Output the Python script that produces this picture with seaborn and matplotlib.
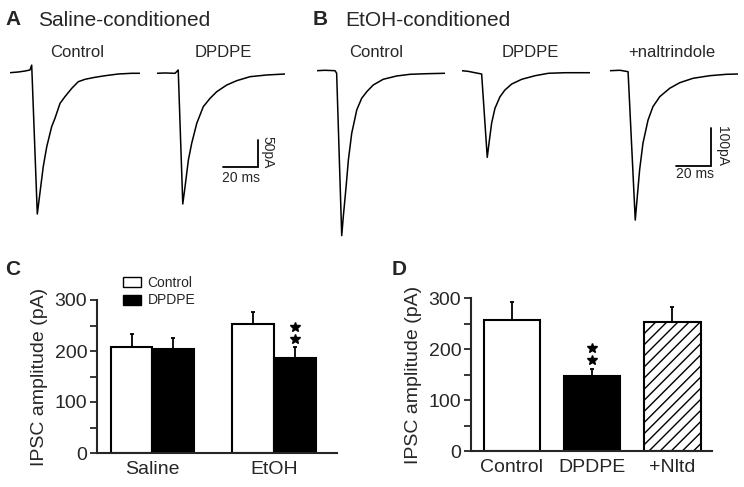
import numpy as np
import pandas as pd
import matplotlib
matplotlib.use('Agg')
import matplotlib.pyplot as plt
from matplotlib.patches import Patch
from matplotlib.transforms import offset_copy
import seaborn as sns

# ---- traces (time in ms, current in pA) ----
a_ctrl_t = [0, 4.7, 8.6, 11.4, 12.4, 15.6, 17.1, 19.0, 21.0, 23.8, 25.7, 28.6, 31.4, 35.3,
            39.0, 42.9, 48.6, 54.3, 61.9, 69.5, 74.3]
a_ctrl_i = [0, 1.3, 3.1, 5.0, 14, -261.7, -223, -174, -137, -100, -84.4, -56.7, -44.4, -28.9,
            -16.7, -12.2, -8.5, -5.6, -2.4, -1.1, -1.1]
a_dpdpe_t = [0, 4.7, 10.5, 12.3, 14.9, 16.2, 18.1, 20.0, 22.9, 26.6, 30.5, 34.3, 40.0, 45.7,
             53.3, 62.9, 73.3]
a_dpdpe_i = [0, 0.6, 0, 6.1, -242, -210, -160.6, -129.6, -92.6, -61.9, -46.3, -34.1, -21.7,
             -13.7, -6.3, -3.1, -1.3]

b_ctrl_t = [0, 4.7, 10.5, 11.4, 14.3, 15.2, 16.8, 18.1, 20.0, 22.9, 25.7, 28.6, 32.3, 38.0,
            45.7, 53.3, 62.9, 73.3]
b_ctrl_i = [0, 1.1, 0, -6.8, -434, -384, -305, -235, -165, -103, -72.6, -55.3, -37.6, -22.6,
            -13.9, -9.5, -7.9, -6.8]
b_dpdpe_t = [0, 3.6, 7.6, 11.4, 14.6, 15.6, 17.1, 19.0, 21.9, 24.7, 28.6, 34.3, 41.9, 49.5,
             59.0, 73.3]
b_dpdpe_i = [0, -1.6, -5.3, -8.7, -228, -191, -138, -99, -68.4, -50.8, -35, -22.6, -13.2,
             -6.8, -5.3, -5.3]
b_nal_t = [0, 5.9, 10.5, 14.6, 15.6, 17.1, 19.0, 21.9, 24.7, 28.6, 34.3, 40.0, 47.6, 57.1,
           66.6, 73.3]
b_nal_i = [0, 1.1, -2.6, -393, -340, -261, -191, -130, -94.7, -68.4, -46.3, -31.6, -20,
           -13.2, -9.5, -8.7]

scale_ms = 20
scale_pa_a = 50
scale_pa_b = 100

# ---- bar data ----
c_groups = ['Saline', 'EtOH']
c_drugs = ['Control', 'DPDPE']
c_control = [208, 253]
c_control_err = [26, 24]
c_dpdpe = [204, 186]
c_dpdpe_err = [22, 21]

d_labels = ['Control', 'DPDPE', '+Nltd']
d_means = [257, 147, 253]
d_err = [35, 15, 29]

W, H = 744, 487
sns.set_style('ticks')
plt.rcParams['font.family'] = ['Liberation Sans', 'DejaVu Sans']
plt.rcParams['hatch.color'] = 'black'
plt.rcParams['hatch.linewidth'] = 1.0

fig = plt.figure(figsize=(W / 100, H / 100), dpi=100)


def rect(l, t, r, b):
    return [l / W, 1 - b / H, (r - l) / W, (b - t) / H]


def fx(x, y):
    return x / W, 1 - y / H


PX_MS = 1.75
PX_PA_A = 0.54
PX_PA_B = 0.38


def trace(x0, y0, t, cur, px_pa):
    t = np.asarray(t, float)
    cur = np.asarray(cur, float)
    top = y0 - 12
    bot = y0 - cur.min() * px_pa + 6
    ax = fig.add_axes(rect(x0, top, x0 + t.max() * PX_MS, bot))
    sns.lineplot(x=t, y=cur, ax=ax, color='black', lw=1.1, estimator=None, sort=False)
    ax.set_xlim(0, t.max())
    ax.set_ylim(-(bot - y0) / px_pa, (y0 - top) / px_pa)
    ax.axis('off')
    return ax


def scalebar(ax, x, y, amp):
    ax.plot([x - scale_ms, x, x], [y, y, y + amp], color='black', lw=1.3,
            clip_on=False, solid_joinstyle='miter')


# ---- panel A ----
trace(10, 72.7, a_ctrl_t, a_ctrl_i, PX_PA_A)
ax_ad = trace(156.7, 73.3, a_dpdpe_t, a_dpdpe_i, PX_PA_A)
scalebar(ax_ad, 57.9, -174.4, scale_pa_a)
fig.text(*fx(267.5, 152), f'{scale_pa_a}pA', rotation=270, ha='center', va='center', fontsize=10)
fig.text(*fx(241, 177.5), f'{scale_ms} ms', ha='center', va='center', fontsize=10)

fig.text(*fx(5, 25), 'A', fontsize=15, fontweight='bold', va='baseline')
fig.text(*fx(38, 25.5), 'Saline-conditioned', fontsize=15, va='baseline')
fig.text(*fx(77, 57.3), 'Control', fontsize=12, ha='center', va='baseline')
fig.text(*fx(223, 57.3), 'DPDPE', fontsize=12, ha='center', va='baseline')

# ---- panel B ----
trace(316.7, 70.7, b_ctrl_t, b_ctrl_i, PX_PA_B)
trace(461.7, 70.7, b_dpdpe_t, b_dpdpe_i, PX_PA_B)
ax_bn = trace(609.7, 70.7, b_nal_t, b_nal_i, PX_PA_B)
scalebar(ax_bn, 57.9, -249.5, scale_pa_b)
fig.text(*fx(721.5, 146), f'{scale_pa_b}pA', rotation=270, ha='center', va='center', fontsize=10)
fig.text(*fx(695, 174.5), f'{scale_ms} ms', ha='center', va='center', fontsize=10)

fig.text(*fx(313, 25), 'B', fontsize=15, fontweight='bold', va='baseline')
fig.text(*fx(345, 25.5), 'EtOH-conditioned', fontsize=15, va='baseline')
fig.text(*fx(376, 57.3), 'Control', fontsize=12, ha='center', va='baseline')
fig.text(*fx(530, 57.3), 'DPDPE', fontsize=12, ha='center', va='baseline')
fig.text(*fx(672, 57.3), '+naltrindole', fontsize=12, ha='center', va='baseline')


def style_bar_axes(ax):
    sns.despine(ax=ax)
    for s in ('left', 'bottom'):
        ax.spines[s].set_linewidth(1.5)
    ax.set_ylim(0, 300)
    ax.set_yticks([0, 100, 200, 300])
    ax.set_yticks([50, 150, 250], minor=True)
    ax.tick_params(axis='y', which='both', direction='out', length=5, width=1.3,
                   labelsize=14, pad=2)
    ax.tick_params(axis='x', length=0, labelsize=14, pad=6)
    ax.set_xlabel('')
    ax.set_ylabel('IPSC amplitude (pA)', fontsize=14, labelpad=5)


def add_err(ax, bar, e):
    xc = bar.get_x() + bar.get_width() / 2
    h = bar.get_height()
    ax.errorbar(xc, h, yerr=[[0], [e]], fmt='none', ecolor='black', elinewidth=1.3,
                capsize=1.5, capthick=1.3, zorder=0)
    return xc, h + e


def add_stars(ax, x, y):
    for dy in (6, 14.5):
        tr = offset_copy(ax.transData, fig=fig, y=dy, units='points')
        ax.plot([x], [y], marker='*', ms=7.5, color='black', mec='black', transform=tr,
                clip_on=False)


# ---- panel C ----
df_c = pd.DataFrame({
    'group': c_groups * 2,
    'drug': [c_drugs[0]] * 2 + [c_drugs[1]] * 2,
    'amp': c_control + c_dpdpe,
})
c_palette = {'Control': 'white', 'DPDPE': 'black'}
ax_c = fig.add_axes(rect(97, 300, 337, 453))
sns.barplot(data=df_c, x='group', y='amp', hue='drug', hue_order=c_drugs, order=c_groups,
            palette=c_palette, edgecolor='black', linewidth=1.5, width=0.69,
            errorbar=None, legend=False, ax=ax_c)
style_bar_axes(ax_c)
ax_c.set_xlim(-0.457, 1.52)
for cont, errs in zip(ax_c.containers, [c_control_err, c_dpdpe_err]):
    for bar, e in zip(cont, errs):
        xc, top = add_err(ax_c, bar, e)
# significance marks over EtOH / DPDPE
star_bar = ax_c.containers[1][1]
add_stars(ax_c, star_bar.get_x() + star_bar.get_width() / 2,
          star_bar.get_height() + c_dpdpe_err[1])

handles = [Patch(facecolor=c_palette[d], edgecolor='black', lw=1.0) for d in c_drugs]
fig.legend(handles, c_drugs, loc='upper left', bbox_to_anchor=fx(123, 276), frameon=False,
           fontsize=10, handlelength=1.27, handleheight=0.72, handletextpad=0.5,
           labelspacing=0.25, borderpad=0, borderaxespad=0)
fig.text(*fx(5, 275), 'C', fontsize=15, fontweight='bold', va='baseline')

# ---- panel D ----
d_colors = ['white', 'black', 'white']
d_hatches = ['', '', '///']
ax_d = fig.add_axes(rect(471, 298.3, 711.7, 451))
sns.barplot(x=d_labels, y=d_means, hue=d_labels, palette=d_colors, edgecolor='black',
            linewidth=1.5, width=0.70, errorbar=None, legend=False, ax=ax_d)
style_bar_axes(ax_d)
ax_d.set_xlim(-0.506, 2.488)
for i, (cont, e, hatch) in enumerate(zip(ax_d.containers, d_err, d_hatches)):
    for bar in cont:
        bar.set_hatch(hatch)
        xc, top = add_err(ax_d, bar, e)
        if i == 1:
            add_stars(ax_d, xc, top)
fig.text(*fx(392, 275), 'D', fontsize=15, fontweight='bold', va='baseline')

fig.savefig('out.png', dpi=100, facecolor='white')
